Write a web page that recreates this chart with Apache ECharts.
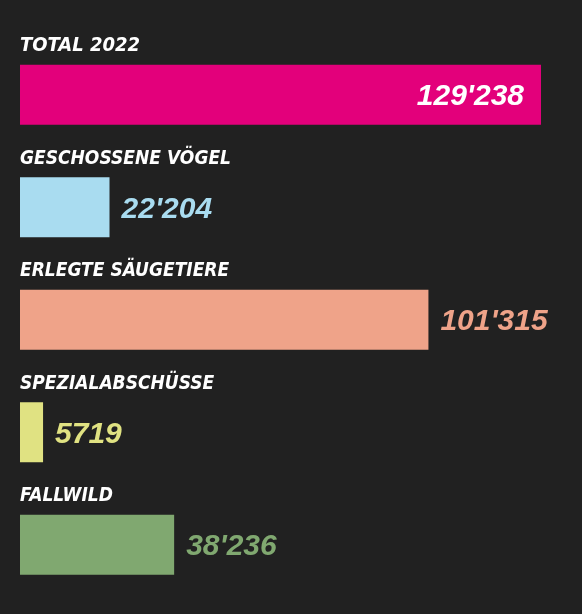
<!DOCTYPE html>
<html>
<head>
<meta charset="utf-8">
<script src="https://cdn.jsdelivr.net/npm/echarts@6/dist/echarts.min.js"></script>
<style>
html,body{margin:0;padding:0;background:#212121;}
#chart{width:582px;height:614px;}
</style>
</head>
<body>
<div id="chart"></div>
<script>
const categories = ['TOTAL 2022', 'GESCHOSSENE VÖGEL', 'ERLEGTE SÄUGETIERE', 'SPEZIALABSCHÜSSE', 'FALLWILD'];
const values = [129238, 22204, 101315, 5719, 38236];
const colors = ['#e3007b', '#a9dcf0', '#efa389', '#e0e282', '#80a870'];

function fmt(v) {
  if (v >= 10000) {
    const s = String(v);
    return s.slice(0, s.length - 3) + "'" + s.slice(s.length - 3);
  }
  return String(v);
}

const chart = echarts.init(document.getElementById('chart'));
const valueFont = 'Liberation Sans, Arial, sans-serif';
const catFont = '"DejaVu Sans Condensed", sans-serif';

const barData = values.map((v, i) => ({
  value: v,
  itemStyle: { color: colors[i] },
  label: i === 0
    ? { position: 'insideRight', distance: 17, color: '#ffffff' }
    : { position: 'right', distance: 12, color: colors[i] }
}));

const nameData = values.map((v, i) => ({
  value: v,
  label: i === 0 ? { fontSize: 20, lineHeight: 20 } : {}
}));

chart.setOption({
  backgroundColor: '#212121',
  animation: false,
  grid: { left: 20, right: 41, top: 38.5, bottom: 13 },
  xAxis: {
    type: 'value', min: 0, max: 'dataMax',
    show: false, splitLine: { show: false }
  },
  yAxis: {
    type: 'category', data: categories, inverse: true, show: false
  },
  series: [
    {
      type: 'bar',
      data: barData,
      barWidth: 60,
      silent: true,
      label: {
        show: true,
        offset: [0, 2],
        formatter: p => fmt(p.value),
        fontFamily: valueFont,
        fontStyle: 'italic',
        fontWeight: 'bold',
        fontSize: 30
      }
    },
    {
      type: 'bar',
      data: nameData,
      barWidth: 60,
      barGap: '-100%',
      silent: true,
      itemStyle: { color: 'rgba(0,0,0,0)' },
      label: {
        show: true,
        position: [0, -9],
        align: 'left',
        verticalAlign: 'bottom',
        formatter: p => p.name,
        color: '#ffffff',
        fontFamily: catFont,
        fontStyle: 'italic',
        fontWeight: 'bold',
        fontSize: 19,
        lineHeight: 19
      }
    }
  ]
});
</script>
</body>
</html>
